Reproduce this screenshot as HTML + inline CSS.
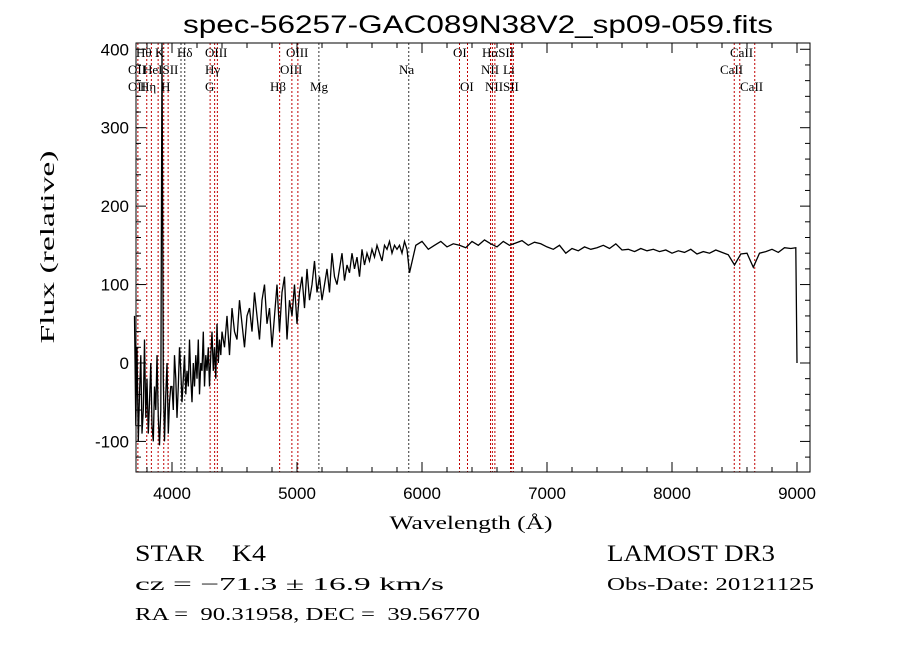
<!DOCTYPE html>
<html><head><meta charset="utf-8"><style>
html,body{margin:0;padding:0;background:#fff;}
svg{display:block;}
text{fill:#000;white-space:pre;}
</style></head><body>
<svg id="chart" width="900" height="649" viewBox="0 0 900 649" xmlns="http://www.w3.org/2000/svg">
<rect width="900" height="649" fill="#fff"/>
<text x="478" y="33" font-family="Liberation Sans, sans-serif" font-size="25" text-anchor="middle" textLength="590" lengthAdjust="spacingAndGlyphs">spec-56257-GAC089N38V2_sp09-059.fits</text>
<g id="lines"></g>
<g id="spec"></g>
<g id="axes"></g>
<g id="labels" font-family="Liberation Serif, serif" font-size="13"></g>
<text x="471" y="529" font-family="Liberation Serif, serif" font-size="19" text-anchor="middle" textLength="163" lengthAdjust="spacingAndGlyphs">Wavelength (Å)</text>
<text transform="translate(54,247) rotate(-90)" font-family="Liberation Serif, serif" font-size="20" text-anchor="middle" textLength="193" lengthAdjust="spacingAndGlyphs">Flux (relative)</text>
<text x="135" y="561" font-family="Liberation Serif, serif" font-size="23" textLength="131" lengthAdjust="spacingAndGlyphs">STAR    K4</text>
<text x="607" y="561" font-family="Liberation Serif, serif" font-size="23" textLength="168" lengthAdjust="spacingAndGlyphs">LAMOST DR3</text>
<text x="135" y="590" font-family="Liberation Serif, serif" font-size="18" textLength="309" lengthAdjust="spacingAndGlyphs">cz = −71.3 ± 16.9 km/s</text>
<text x="607" y="590" font-family="Liberation Serif, serif" font-size="18" textLength="207" lengthAdjust="spacingAndGlyphs">Obs-Date: 20121125</text>
<text x="135" y="620" font-family="Liberation Serif, serif" font-size="18" textLength="345" lengthAdjust="spacingAndGlyphs">RA =  90.31958, DEC =  39.56770</text>
</svg>
<script>
const segStarts = [3700, 4420, 5900, 8990];
const segSteps = [10, 20, 50, 10];
const fluxBlue = [60,-80,20,-100,-40,10,-90,-60,30,-70,
-20,-90,-50,0,-80,-100,-30,-60,10,-70,
-105,-60,420,-20,-100,-40,0,-90,-50,-30,
-30,-60,10,-20,-70,-30,20,-10,-50,-20,
10,-40,-10,-30,30,-20,-50,0,-30,10,
-20,30,-40,0,-10,40,-30,10,-10,20,
-30,10,40,-10,20,-20,50,0,30,10,
40];
const fluxMid = [20,60,10,70,40,30,80,50,20,60,
70,40,90,60,30,80,100,50,70,20,
60,100,40,90,110,30,80,60,100,50,
90,110,70,120,80,100,130,90,110,80,
100,120,90,140,110,100,120,140,105,125,
115,140,120,135,110,145,125,140,130,145,
135,150,140,130,150,145,155,140,150,145,
150,140,155,145];
const fluxRed = [115,
150,155,145,150,155,148,152,150,147,155,
150,157,152,148,155,150,153,156,150,154,
152,148,145,150,140,146,143,148,145,147,
150,146,152,144,145,142,146,143,145,142,
144,140,143,141,145,139,142,140,144,141,
138,125,139,140,122,140,142,145,141,147,
146];
const fluxEnd = [147,0];
const lineWaves = [3727,3798,3835,3889,3934,3969,4072,4102,4305,4341,4363,4861,4959,5007,5175,5894,6300,6364,6548,6563,6583,6708,6717,6731,8498,8542,8662];
const lineDark = [0,0,0,0,0,0,1,1,0,0,0,0,0,0,1,1,0,0,0,0,0,0,0,0,0,0,0];
const xTicks = [4000,5000,6000,7000,8000,9000];
const yTicks = [-100,0,100,200,300,400];

const X0=136,X1=810,Y0=43,Y1=472;
const xMin=3712,xMax=9104,yMin=-139,yMax=408;
const sx=w=>X0+(w-xMin)/(xMax-xMin)*(X1-X0);
const sy=v=>Y1-(v-yMin)/(yMax-yMin)*(Y1-Y0);
const NS='http://www.w3.org/2000/svg';
function mk(tag,attrs,parent){const e=document.createElementNS(NS,tag);for(const k in attrs)e.setAttribute(k,attrs[k]);parent.appendChild(e);return e;}

const segs=[fluxBlue,fluxMid,fluxRed,fluxEnd];
let pts=[];
segs.forEach((arr,i)=>arr.forEach((v,j)=>{const w=segStarts[i]+j*segSteps[i];pts.push(sx(w).toFixed(1)+','+sy(Math.min(v,yMax)).toFixed(1));}));
const spec=document.getElementById('spec');
const pl=mk('polyline',{points:pts.join(' '),fill:'none',stroke:'#000','stroke-width':1.3},spec);



const lg=document.getElementById('lines');
lineWaves.forEach((w,i)=>{
  const l=mk('line',{x1:sx(w),x2:sx(w),y1:Y0,y2:Y1,stroke:lineDark[i]?'#333':'#c00000','stroke-width':1,'stroke-dasharray':'2,2'},lg);
  
  
});

const labs=[["Hθ",136,57],["K",155,57],["Hδ",177,57],["OIII",205,57],["OIII",286,57],["OI",453,57],["HαSII",482,57],["CaII",730,57],
["OII",128,74],["HeISII",143,74],["Hγ",205,74],["OIII",280,74],["Na",399,74],["NII",481,74],["Li",503,74],["CaII",720,74],
["OII",128,91],["Hη",140,91],["H",161,91],["G",205,91],["Hβ",270,91],["Mg",310,91],["OI",460,91],["NII",485,91],["SII",503,91],["CaII",740,91]];
const lb=document.getElementById('labels');
labs.forEach(a=>{const t=mk('text',{x:a[1],y:a[2]},lb);t.textContent=a[0];
  
  });

const ax=document.getElementById('axes');
const fr=mk('rect',{x:X0,y:Y0,width:X1-X0,height:Y1-Y0,fill:'none',stroke:'#000','stroke-width':1},ax);


for(let w=3800;w<=9100;w+=200){const x=sx(w);const maj=w%1000===0;const L=maj?10:5;
  mk('line',{x1:x,x2:x,y1:Y1,y2:Y1-L,stroke:'#000'},ax);mk('line',{x1:x,x2:x,y1:Y0,y2:Y0+L,stroke:'#000'},ax);}
xTicks.forEach(w=>{const t=mk('text',{x:sx(w),y:Y1+27,'text-anchor':'middle','font-family':'Liberation Sans, sans-serif','font-size':17},ax);t.textContent=w;
  
  });
for(let v=-120;v<=400;v+=20){const y=sy(v);const maj=v%100===0;const L=maj?10:5;
  mk('line',{x1:X0,x2:X0+L,y1:y,y2:y,stroke:'#000'},ax);mk('line',{x1:X1,x2:X1-L,y1:y,y2:y,stroke:'#000'},ax);}
yTicks.forEach(v=>{const t=mk('text',{x:X0-7,y:sy(v)+6,'text-anchor':'end','font-family':'Liberation Sans, sans-serif','font-size':17},ax);t.textContent=v;
  
  });
</script>
</body></html>
